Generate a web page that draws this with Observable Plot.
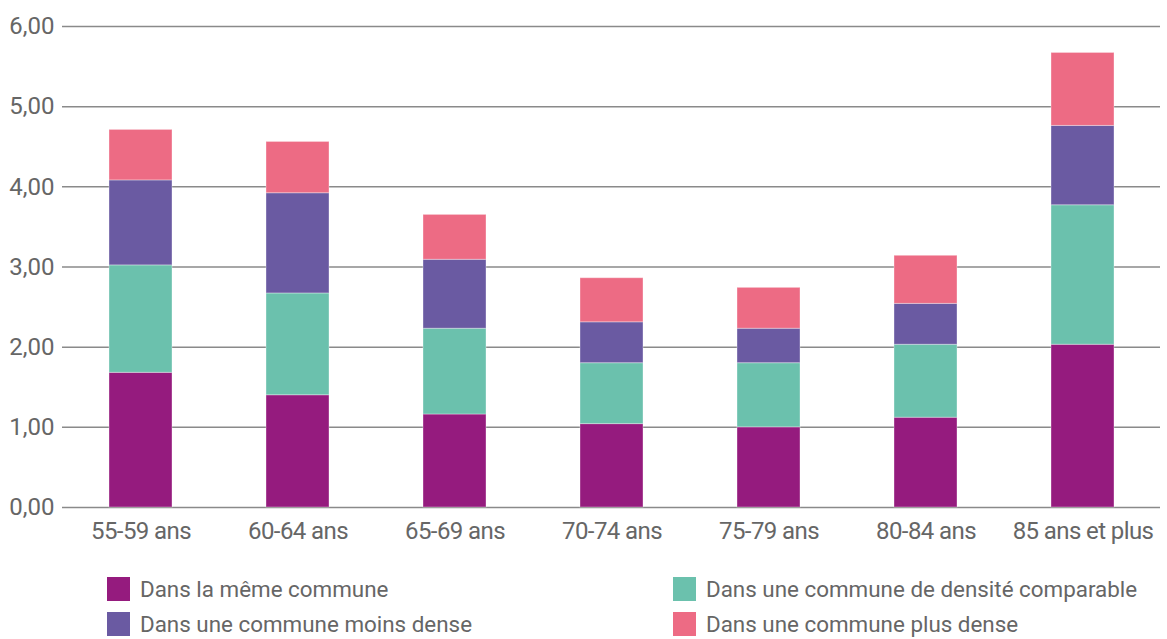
<!DOCTYPE html>
<html>
<head>
<meta charset="utf-8">
<script src="https://cdn.jsdelivr.net/npm/d3@7"></script>
<script src="https://cdn.jsdelivr.net/npm/@observablehq/plot@0.6"></script>
<style>
  html, body { margin: 0; padding: 0; background: #fff; overflow: hidden; }
  body { width: 1167px; height: 639px; position: relative; font-family: Roboto, sans-serif; }
  #legend { position: absolute; left: 107px; top: 577px; width: 1060px; }
  .item { position: absolute; display: flex; align-items: center; font-size: 22.4px; color: #666; white-space: nowrap; height: 24px; line-height: 24px; }
  .sw { width: 23px; height: 24px; margin-right: 10px; flex: none; }
  .xax text { letter-spacing: -0.6px; }
</style>
</head>
<body>
<div id="chart"></div>
<div id="legend"></div>
<script>
const categories = ["55-59 ans", "60-64 ans", "65-69 ans", "70-74 ans", "75-79 ans", "80-84 ans", "85 ans et plus"];
const seriesNames = ["Dans la même commune", "Dans une commune de densité comparable", "Dans une commune moins dense", "Dans une commune plus dense"];
const seriesColors = ["#951b7e", "#6bc1ad", "#6a5aa2", "#ed6b84"];
const memeCommune   = [1.68, 1.40, 1.16, 1.04, 1.00, 1.12, 2.03];
const densiteComp   = [1.34, 1.27, 1.07, 0.76, 0.80, 0.91, 1.74];
const moinsDense    = [1.06, 1.25, 0.86, 0.51, 0.43, 0.51, 0.99];
const plusDense     = [0.63, 0.64, 0.56, 0.55, 0.51, 0.60, 0.91];
const yTicks = [0, 1, 2, 3, 4, 5, 6];

const seriesValues = [memeCommune, densiteComp, moinsDense, plusDense];
const data = [];
seriesNames.forEach((s, si) => {
  categories.forEach((c, ci) => data.push({ cat: c, serie: s, value: seriesValues[si][ci] }));
});

const fmt = d => d3.format(".2f")(d).replace(".", ",");

const chart = Plot.plot({
  width: 1167,
  height: 560,
  marginLeft: 62,
  marginRight: 7,
  marginTop: 26,
  marginBottom: 53,
  style: { fontFamily: "Roboto, sans-serif", fontSize: "24px", color: "#666", background: "#fff" },
  x: { domain: categories, paddingInner: 0.6, paddingOuter: 0.285, label: null, axis: null },
  y: { domain: [0, 6], ticks: yTicks, tickFormat: fmt, label: null, tickSize: 0, tickPadding: 8 },
  color: { domain: seriesNames, range: seriesColors },
  marks: [
    Plot.ruleY(yTicks, { stroke: "#8a8a8a", strokeWidth: 1.5 }),
    Plot.barY(data, Plot.stackY({ order: seriesNames }, {
      x: "cat", y: "value", fill: "serie", stroke: "#ffffff", strokeOpacity: 0.35, strokeWidth: 1
    })),
    Plot.axisX({ tickSize: 0, tickPadding: 14, label: null, className: "xax" })
  ]
});
document.getElementById("chart").appendChild(chart);

const legend = document.getElementById("legend");
const positions = [[0, 0], [566, 0], [0, 35], [566, 35]];
seriesNames.forEach((s, k) => {
  const it = document.createElement("div");
  it.className = "item";
  it.style.left = positions[k][0] + "px";
  it.style.top = positions[k][1] + "px";
  const sw = document.createElement("div");
  sw.className = "sw";
  sw.style.background = seriesColors[k];
  const t = document.createElement("span");
  t.textContent = s;
  it.appendChild(sw); it.appendChild(t);
  legend.appendChild(it);
});
</script>
</body>
</html>
